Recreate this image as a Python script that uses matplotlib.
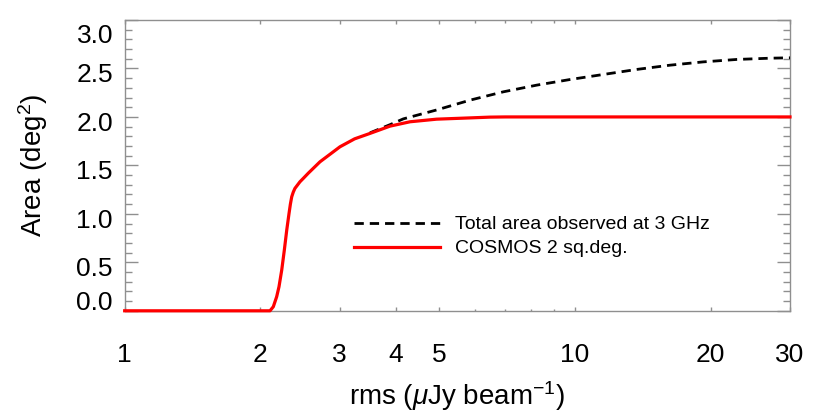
import matplotlib
matplotlib.use('Agg')
import matplotlib.pyplot as plt
import matplotlib.transforms as mtransforms

plt.rcParams['font.family'] = ['Liberation Sans', 'DejaVu Sans']
plt.rcParams['mathtext.fontset'] = 'custom'
plt.rcParams['mathtext.rm'] = 'Liberation Sans'
plt.rcParams['mathtext.it'] = 'Liberation Sans:italic'
plt.rcParams['lines.scale_dashes'] = False

# COSMOS 2 sq.deg. area vs rms
rms_cosmos = [1.0, 2.05, 2.102, 2.138, 2.175, 2.201, 2.232, 2.262, 2.290, 2.317,
              2.333, 2.349, 2.368, 2.388, 2.450, 2.492, 2.557, 2.714, 3.006,
              3.24, 3.505, 3.882, 4.3, 4.928, 5.84, 6.47, 7.0, 10.0, 30.0]
area_cosmos = [0.0, 0.0, 0.0, 0.042, 0.145, 0.248, 0.42, 0.627, 0.833, 1.005,
               1.10, 1.176, 1.225, 1.263, 1.331, 1.366, 1.42, 1.537, 1.692,
               1.774, 1.83, 1.905, 1.95, 1.977, 1.99, 1.998, 2.0, 2.0, 2.0]

# total area observed at 3 GHz
rms_total = [3.505, 3.882, 4.156, 4.928, 5.843, 6.928, 8.218, 9.743, 11.55,
             13.70, 16.25, 19.26, 22.85, 27.09, 30.0]
area_total = [1.836, 1.92, 1.98, 2.072, 2.173, 2.259, 2.328, 2.386, 2.438,
              2.49, 2.534, 2.568, 2.593, 2.606, 2.61]

xticks = [1, 2, 3, 4, 5, 10, 20, 30]
xminor = [6, 7, 8, 9]
yticks = [0.0, 0.5, 1.0, 1.5, 2.0, 2.5, 3.0]
ylabels = ['0.0', '0.5', '1.0', '1.5', '2.0', '2.5', '3.0']
yminor = [i / 10 for i in range(31)]

axcol = '#8f8f8f'

fig = plt.figure(figsize=(8.3, 4.15), dpi=100)
ax = fig.add_axes([0.1502, 0.2511, 0.8016, 0.7007])

ax.plot(rms_total, area_total, color='black', lw=2.0, dashes=(6.7, 4.3),
        label='Total area observed at 3 GHz', clip_on=False, zorder=3)
ax.plot(rms_cosmos, area_cosmos, color='red', lw=2.3,
        label='COSMOS 2 sq.deg.', clip_on=False, zorder=4)

ax.set_xscale('log')
ax.set_xlim(1, 30)
ax.set_ylim(0, 3.0)
ax.set_xticks(xticks)
ax.set_xticklabels([str(t) for t in xticks])
ax.set_xticks(xminor, minor=True)
ax.set_xticklabels([], minor=True)
ax.set_yticks(yticks)
ax.set_yticklabels(ylabels)
ax.set_yticks(yminor, minor=True)

for s in ax.spines.values():
    s.set_color(axcol)
    s.set_linewidth(1.0)

ax.tick_params(axis='both', which='both', direction='in', color=axcol,
               width=1.0, top=True, right=True, labelsize=19)
ax.tick_params(axis='x', which='major', length=3.2, pad=23)
ax.tick_params(axis='x', which='minor', length=1.8)
ax.tick_params(axis='y', which='major', length=9.4, pad=8.4)
ax.tick_params(axis='y', which='minor', length=5.0)

# IDL style label placement: end labels pulled inside the box
offsets = {'0.0': 0.8, '3.0': -23.3}
for lab in ax.get_yticklabels():
    dy = offsets.get(lab.get_text(), -14.0)
    lab.set_va('baseline')
    lab.set_transform(lab.get_transform() +
                      mtransforms.ScaledTranslation(0, dy / 100, fig.dpi_scale_trans))

ax.set_xlabel(r'rms ($\mu$Jy beam$^{-1}$)', fontsize=20)
ax.set_ylabel(r'Area (deg$^2$)', fontsize=20)
ax.xaxis.set_label_coords(0.5, -0.234)
ax.yaxis.set_label_coords(-0.112, 0.5)

ax.legend(loc='upper left', bbox_to_anchor=(0.3447, 0.327), frameon=False,
          fontsize=14, handlelength=4.4, handletextpad=0.77,
          labelspacing=0.33, borderpad=0, borderaxespad=0)

fig.savefig('out.png', dpi=100)
